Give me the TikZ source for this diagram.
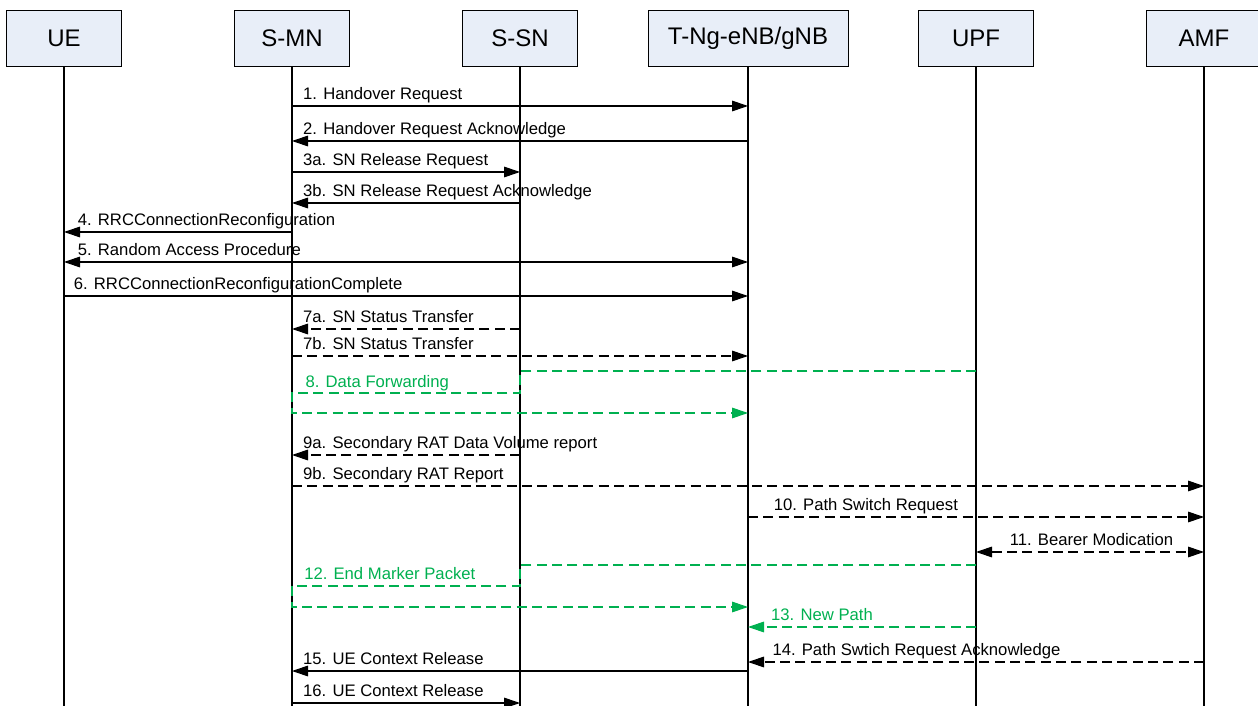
\documentclass[tikz,border=0pt]{standalone}
\usepackage{fontspec}
\setmainfont{Liberation Sans}
\usetikzlibrary{arrows.meta,positioning}
\definecolor{boxblue}{HTML}{E8EEF8}
\definecolor{fwdgreen}{HTML}{00B050}

\begin{document}
\begin{tikzpicture}[x=0.75pt,y=-0.75pt,
	entity/.style={draw,fill=boxblue,minimum width=86pt,minimum height=42pt,inner sep=0pt,line width=0.6pt,font=\fontsize{18}{20}\selectfont},
	msg/.style={line width=0.8pt,-{Triangle[length=12pt,width=8pt]}},
	twoway/.style={line width=0.8pt,{Triangle[length=12pt,width=8pt]}-{Triangle[length=12pt,width=8pt]}},
	dashmsg/.style={dash pattern=on 7.5pt off 4pt},
	fwd/.style={msg,dashmsg,color=fwdgreen},
	lbl/.style={anchor=base west,inner sep=0pt,xshift=8pt,yshift=5pt,font=\fontsize{12.5}{14}\selectfont}]
	\useasboundingbox (0,0) rectangle (1258,706);

	% Entities and their lifelines.
	\node[entity] (ue) at (64,38) {UE};
	\node[entity] (smn) at (292,38) {S-MN};
	\node[entity] (ssn) at (520,38) {S-SN};
	\node[entity,minimum width=150pt] (tng) at (748,38) {T-Ng-eNB/gNB};
	\node[entity] (upf) at (976,38) {UPF};
	\node[entity] (amf) at (1204,38) {AMF};
	\foreach \n in {ue,smn,ssn,tng,upf,amf}
		\draw[line width=0.8pt] (\n.south) -- (\n.south |- 0,706);

	% Handover preparation
	\draw[msg] (smn |- 0,106) -- (tng |- 0,106) node[lbl,at start] {1. Handover Request};
	\draw[msg] (tng |- 0,141) -- (smn |- 0,141) node[lbl,at end] {2. Handover Request Acknowledge};
	\draw[msg] (smn |- 0,172) -- (ssn |- 0,172) node[lbl,at start] {3a. SN Release Request};
	\draw[msg] (ssn |- 0,203) -- (smn |- 0,203) node[lbl,at end] {3b. SN Release Request Acknowledge};
	\draw[msg] (smn |- 0,232) -- (ue |- 0,232) node[lbl,at end,xshift=2pt] {4. RRCConnectionReconfiguration};
	\draw[twoway] (ue |- 0,262) -- (tng |- 0,262) node[lbl,at start,xshift=2pt] {5. Random Access Procedure};
	\draw[msg] (ue |- 0,296) -- (tng |- 0,296) node[lbl,at start,xshift=-1pt] {6. RRCConnectionReconfigurationComplete};

	% Status transfer and forwarding
	\draw[msg,dashmsg] (ssn |- 0,329) -- (smn |- 0,329) node[lbl,at end] {7a. SN Status Transfer};
	\draw[msg,dashmsg] (smn |- 0,356) -- (tng |- 0,356) node[lbl,at start] {7b. SN Status Transfer};
	\draw[fwd] (upf |- 0,371) -- (ssn |- 0,371) -- (ssn |- 0,393) -- (smn |- 0,393) -- (smn |- 0,413) -- (tng |- 0,413);
	\node[lbl,text=fwdgreen,xshift=2pt,yshift=-1pt] (fwdlbl) at (smn |- 0,393) {8. Data Forwarding};

	\draw[msg,dashmsg] (ssn |- 0,455) -- (smn |- 0,455) node[lbl,at end] {9a. Secondary RAT Data Volume report};
	\draw[msg,dashmsg] (smn |- 0,486) -- (amf |- 0,486) node[lbl,at start] {9b. Secondary RAT Report};

	% Path switch
	\draw[msg,dashmsg] (tng |- 0,517) -- (amf |- 0,517) node[lbl,at start,xshift=11pt] {10. Path Switch Request};
	\draw[twoway,dashmsg] (upf |- 0,552) -- (amf |- 0,552) node[lbl,at start,xshift=17pt] {11. Bearer Modication};
	\draw[fwd] (upf |- 0,565) -- (ssn |- 0,565) -- (ssn |- 0,586) -- (smn |- 0,586) -- (smn |- 0,607) -- (tng |- 0,607);
	\node[lbl,text=fwdgreen,xshift=1pt] (emlbl) at (smn |- 0,586) {12. End Marker Packet};
	\draw[fwd] (upf |- 0,627) -- (tng |- 0,627) node[lbl,at end,text=fwdgreen,xshift=9pt] {13. New Path};
	\draw[msg,dashmsg] (amf |- 0,662) -- (tng |- 0,662) node[lbl,at end,xshift=10pt] {14. Path Swtich Request Acknowledge};

	% Release
	\draw[msg] (tng |- 0,671) -- (smn |- 0,671) node[lbl,at end] {15. UE Context Release};
	\draw[msg] (smn |- 0,703) -- (ssn |- 0,703) node[lbl,at start] {16. UE Context Release};
\end{tikzpicture}
\end{document}
